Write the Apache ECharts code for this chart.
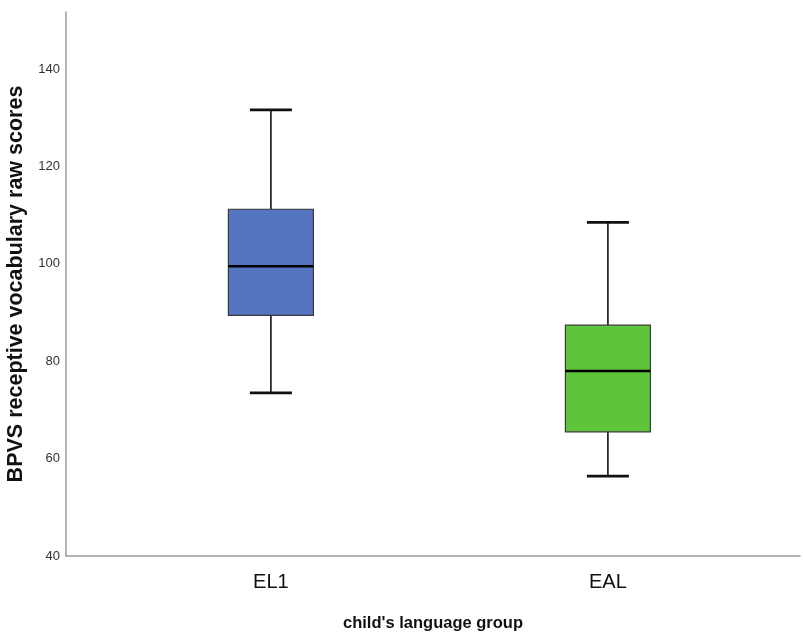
<!DOCTYPE html>
<html>
<head>
<meta charset="utf-8">
<script src="https://cdn.jsdelivr.net/npm/echarts@6/dist/echarts.min.js"></script>
<style>
  html, body { margin: 0; padding: 0; background: #ffffff; }
  #chart { width: 803px; height: 636px; }
</style>
</head>
<body>
<div id="chart"></div>
<script>
// Group labels and five-number summaries of BPVS raw scores
const categories = ['EL1', 'EAL'];
const whiskerLow = [73.5, 56.4];
const quartile1 = [89.4, 65.5];
const medians = [99.5, 78.0];
const quartile3 = [111.2, 87.4];
const whiskerHigh = [131.6, 108.5];
const yTicks = [40, 60, 80, 100, 120, 140];

const boxColors = ['#5575c0', '#5ec43a'];
const BOX_WIDTH = 85;
const CAP_WIDTH = 42;

const data = categories.map((c, i) => [
  i + 1, whiskerLow[i], quartile1[i], medians[i], quartile3[i], whiskerHigh[i]
]);

function renderBox(params, api) {
  const i = params.dataIndex;
  const pos = api.value(0);
  const pLow = api.coord([pos, api.value(1)]);
  const pQ1 = api.coord([pos, api.value(2)]);
  const pMed = api.coord([pos, api.value(3)]);
  const pQ3 = api.coord([pos, api.value(4)]);
  const pHigh = api.coord([pos, api.value(5)]);
  const cx = pMed[0];
  const hb = BOX_WIDTH / 2;
  const hc = CAP_WIDTH / 2;
  const lineStyle = { stroke: '#111111', lineWidth: 1.6 };
  return {
    type: 'group',
    children: [
      { type: 'line', shape: { x1: cx, y1: pHigh[1], x2: cx, y2: pQ3[1] }, style: lineStyle },
      { type: 'line', shape: { x1: cx, y1: pQ1[1], x2: cx, y2: pLow[1] }, style: lineStyle },
      { type: 'line', shape: { x1: cx - hc, y1: pHigh[1], x2: cx + hc, y2: pHigh[1] }, style: { stroke: '#111111', lineWidth: 2.6 } },
      { type: 'line', shape: { x1: cx - hc, y1: pLow[1], x2: cx + hc, y2: pLow[1] }, style: { stroke: '#111111', lineWidth: 2.6 } },
      {
        type: 'rect',
        shape: { x: cx - hb, y: pQ3[1], width: BOX_WIDTH, height: pQ1[1] - pQ3[1] },
        style: { fill: boxColors[i], stroke: '#3a3a3a', lineWidth: 1.2 }
      },
      { type: 'line', shape: { x1: cx - hb, y1: pMed[1], x2: cx + hb, y2: pMed[1] }, style: { stroke: '#000000', lineWidth: 2.6 } }
    ]
  };
}

const chart = echarts.init(document.getElementById('chart'), null, { renderer: 'canvas' });
chart.setOption({
  animation: false,
  backgroundColor: '#ffffff',
  grid: { left: 66, right: 3, top: 12, bottom: 80, containLabel: false, outerBoundsMode: 'none' },
  xAxis: {
    type: 'value',
    min: 0.392,
    max: 2.57,
    name: "child's language group",
    nameLocation: 'middle',
    nameGap: 59,
    nameTextStyle: { fontFamily: 'Liberation Sans, Arial, sans-serif', fontSize: 16.5, fontWeight: 'bold', color: '#111111' },
    axisLine: { show: true, lineStyle: { color: '#9a9a9a', width: 1.5 } },
    axisTick: { show: false },
    splitLine: { show: false },
    axisLabel: {
      customValues: categories.map((c, i) => i + 1),
      formatter: v => categories[Math.round(v) - 1],
      margin: 16,
      fontFamily: 'Liberation Sans Narrow, Liberation Sans, Arial, sans-serif',
      fontSize: 20,
      color: '#111111'
    }
  },
  yAxis: {
    type: 'value',
    min: 40,
    max: 151.7,
    name: 'BPVS receptive vocabulary raw scores',
    nameLocation: 'middle',
    nameGap: 33,
    nameTextStyle: { fontFamily: 'Liberation Sans, Arial, sans-serif', fontSize: 21.5, fontWeight: 'bold', color: '#111111' },
    axisLine: { show: true, lineStyle: { color: '#9a9a9a', width: 1.5 } },
    axisTick: { show: false },
    splitLine: { show: false },
    axisLabel: {
      customValues: yTicks,
      margin: 6,
      fontFamily: 'Liberation Sans Narrow, Liberation Sans, Arial, sans-serif',
      fontSize: 13,
      color: '#333333'
    }
  },
  series: [{
    type: 'custom',
    renderItem: renderBox,
    data: data,
    encode: { x: 0, y: [1, 2, 3, 4, 5] }
  }]
});
</script>
</body>
</html>
